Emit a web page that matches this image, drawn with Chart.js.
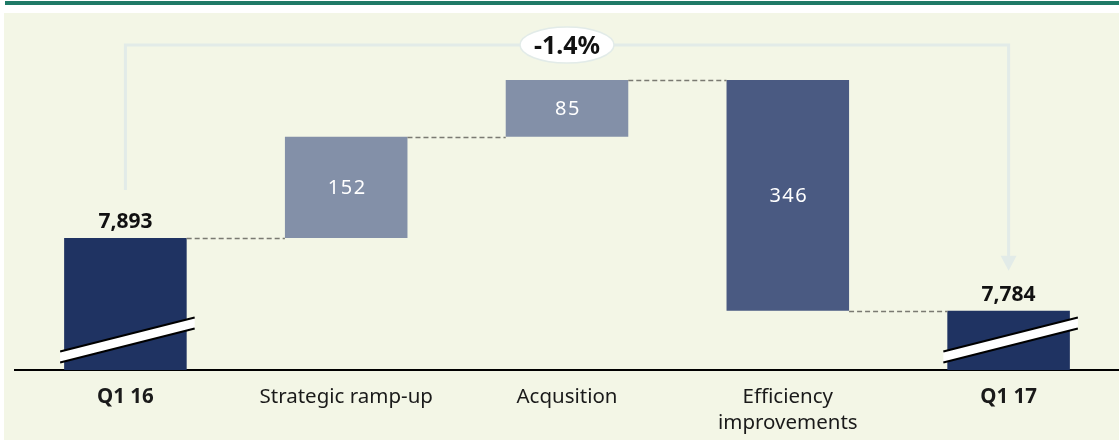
<!DOCTYPE html>
<html>
<head>
<meta charset="utf-8">
<script src="https://cdn.jsdelivr.net/npm/chart.js@4/dist/chart.umd.min.js"></script>
<style>
  html, body { margin: 0; padding: 0; background: #ffffff; }
  #wrap { position: relative; width: 1119px; height: 443px; overflow: hidden; }
  #topbar { position: absolute; left: 5px; top: 1px; right: 0; height: 4px; background: #1f7a67; }
  #panel { position: absolute; left: 4px; top: 13px; right: 0; height: 427px; background: #f3f6e6; }
  #box { position: absolute; left: 0; top: 0; width: 1119px; height: 443px; }
</style>
</head>
<body>
<div id="wrap">
  <div id="topbar"></div>
  <div id="panel"></div>
  <div id="box"><canvas id="waterfall"></canvas></div>
</div>
<script>
// Données du graphique
const categorias = ['Q1 16', 'Strategic ramp-up', 'Acqusition', ['Efficiency', 'improvements'], 'Q1 17'];
const valores = [7893, 152, 85, -346, 7784];
const tipos = ['total', 'delta', 'delta', 'delta', 'total'];
const rotulos = ['7,893', '152', '85', '346', '7,784'];
const variacao = '-1.4%';
const eixoMin = 7695;
const eixoMax = 8205;

const cores = ['#1f3362', '#8390a8', '#8390a8', '#4a5a82', '#1f3362'];

// monta as barras flutuantes a partir dos valores
function montarBarras() {
    const barras = [];
    let acumulado = 0;
    for (let i = 0; i < valores.length; i++) {
        if (tipos[i] === 'total') {
            acumulado = valores[i];
            barras.push([eixoMin, valores[i]]);
        } else {
            const inicio = acumulado;
            acumulado += valores[i];
            barras.push([Math.min(inicio, acumulado), Math.max(inicio, acumulado)]);
        }
    }
    return barras;
}

const fonte = '"Noto Sans", "Open Sans", sans-serif';

// Plugin para conectores, rótulos, quebras e seta
const extrasPlugin = {
    id: 'extras',
    afterDatasetsDraw(chart) {
        const ctx = chart.ctx;
        const meta = chart.getDatasetMeta(0);
        const y = chart.scales.y;
        const area = chart.chartArea;
        const barras = chart.data.datasets[0].data;

        // conectores tracejados
        ctx.save();
        ctx.strokeStyle = '#7a7a72';
        ctx.lineWidth = 1.5;
        ctx.setLineDash([5, 3]);
        let acumulado = 0;
        const niveis = [];
        for (let i = 0; i < valores.length; i++) {
            acumulado = tipos[i] === 'total' ? valores[i] : acumulado + valores[i];
            niveis.push(acumulado);
        }
        for (let i = 0; i < meta.data.length - 1; i++) {
            const a = meta.data[i], b = meta.data[i + 1];
            const py = Math.round(y.getPixelForValue(niveis[i])) + 0.5;
            ctx.beginPath();
            ctx.moveTo(a.x + a.width / 2, py);
            ctx.lineTo(b.x - b.width / 2, py);
            ctx.stroke();
        }
        ctx.restore();

        // marcas de quebra nas barras totais
        meta.data.forEach((bar, i) => {
            if (tipos[i] !== 'total') return;
            const base = area.bottom;
            const x0 = bar.x - bar.width / 2 - 4;
            const x1 = bar.x + bar.width / 2 + 8;
            const yl = base - 13, yr = base - 47, h = 11;
            ctx.save();
            ctx.fillStyle = '#ffffff';
            ctx.beginPath();
            ctx.moveTo(x0, yl - h / 2);
            ctx.lineTo(x1, yr - h / 2);
            ctx.lineTo(x1, yr + h / 2);
            ctx.lineTo(x0, yl + h / 2);
            ctx.closePath();
            ctx.fill();
            ctx.strokeStyle = '#000000';
            ctx.lineWidth = 2;
            ctx.beginPath();
            ctx.moveTo(x0, yl - h / 2);
            ctx.lineTo(x1, yr - h / 2);
            ctx.moveTo(x0, yl + h / 2);
            ctx.lineTo(x1, yr + h / 2);
            ctx.stroke();
            ctx.restore();
        });

        // rótulos de valor
        meta.data.forEach((bar, i) => {
            ctx.save();
            ctx.textAlign = 'center';
            if (tipos[i] === 'total') {
                ctx.font = 'bold 21px ' + fonte;
                ctx.fillStyle = '#111111';
                ctx.textBaseline = 'alphabetic';
                ctx.fillText(rotulos[i], bar.x, y.getPixelForValue(barras[i][1]) - 10);
            } else {
                ctx.font = '20px ' + fonte;
                ctx.fillStyle = '#ffffff';
                ctx.letterSpacing = '1.5px';
                ctx.textBaseline = 'middle';
                const meio = (y.getPixelForValue(barras[i][0]) + y.getPixelForValue(barras[i][1])) / 2;
                ctx.fillText(rotulos[i], bar.x + 1, meio + 1);
            }
            ctx.restore();
        });

        // seta de variação
        const primeiro = meta.data[0], ultimo = meta.data[meta.data.length - 1];
        const topo = 45;
        const yIni = y.getPixelForValue(barras[0][1]) - 48;
        const yFim = y.getPixelForValue(barras[barras.length - 1][1]) - 40;
        ctx.save();
        ctx.strokeStyle = '#e2ebe8';
        ctx.fillStyle = '#e2ebe8';
        ctx.lineWidth = 3;
        ctx.beginPath();
        ctx.moveTo(primeiro.x, yIni);
        ctx.lineTo(primeiro.x, topo);
        ctx.lineTo(ultimo.x, topo);
        ctx.lineTo(ultimo.x, yFim - 12);
        ctx.stroke();
        ctx.beginPath();
        ctx.moveTo(ultimo.x - 8, yFim - 15);
        ctx.lineTo(ultimo.x + 8, yFim - 15);
        ctx.lineTo(ultimo.x, yFim);
        ctx.closePath();
        ctx.fill();

        const cx = (primeiro.x + ultimo.x) / 2;
        ctx.beginPath();
        ctx.ellipse(cx, topo, 47, 18, 0, 0, Math.PI * 2);
        ctx.fillStyle = '#ffffff';
        ctx.fill();
        ctx.lineWidth = 1.5;
        ctx.strokeStyle = '#e2ebe8';
        ctx.stroke();
        ctx.font = 'bold 25px ' + fonte;
        ctx.fillStyle = '#111111';
        ctx.textAlign = 'center';
        ctx.textBaseline = 'alphabetic';
        ctx.fillText(variacao, cx, topo + 9);
        ctx.restore();
    }
};

function desenharGrafico() {
    const ctx = document.getElementById('waterfall').getContext('2d');
    window.myChart = new Chart(ctx, {
        type: 'bar',
        data: {
            labels: categorias,
            datasets: [{
                data: montarBarras(),
                backgroundColor: cores,
                borderWidth: 0,
                borderSkipped: false,
                barPercentage: 0.555,
                categoryPercentage: 1.0
            }]
        },
        options: {
            responsive: true,
            maintainAspectRatio: false,
            animation: false,
            layout: { padding: { left: 15, right: 0, top: 30, bottom: 3 } },
            scales: {
                x: {
                    grid: { display: false, drawTicks: false },
                    border: { display: true, color: '#000000', width: 2 },
                    afterFit: function (s) { s.height = 70; },
                    ticks: {
                        padding: 14,
                        color: '#1a1a1a',
                        maxRotation: 0,
                        autoSkip: false,
                        font: function (c) {
                            const negrito = c.index === 0 || c.index === 4;
                            return { family: fonte, size: 20.5, weight: negrito ? 'bold' : 'normal', lineHeight: '26px' };
                        }
                    }
                },
                y: {
                    display: false,
                    min: eixoMin,
                    max: eixoMax
                }
            },
            plugins: {
                legend: { display: false },
                tooltip: { enabled: false }
            }
        },
        plugins: [extrasPlugin]
    });
}

document.addEventListener('DOMContentLoaded', desenharGrafico);
</script>
</body>
</html>
